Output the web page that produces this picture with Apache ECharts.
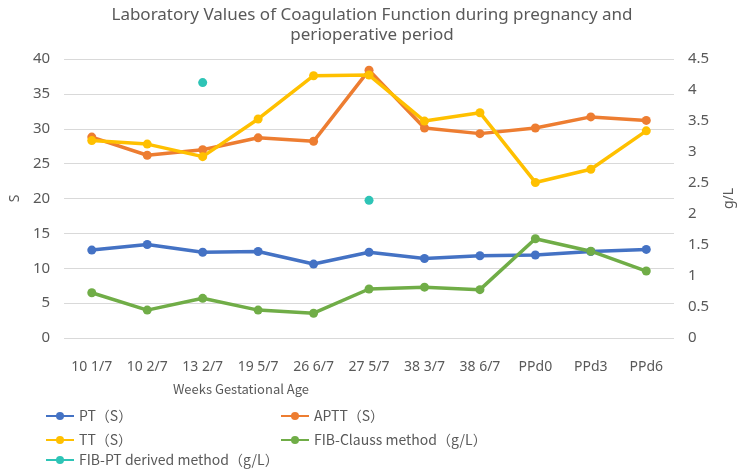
<!DOCTYPE html>
<html>
<head>
<meta charset="utf-8">
<script src="https://cdn.jsdelivr.net/npm/echarts@6/dist/echarts.min.js"></script>
<style>
html, body { margin: 0; padding: 0; background: #fff; }
#chart { width: 744px; height: 470px; }
</style>
</head>
<body>
<div id="chart"></div>
<script>
var weeks = ['10 1/7', '10 2/7', '13 2/7', '19 5/7', '26 6/7', '27 5/7', '38 3/7', '38 6/7', 'PPd0', 'PPd3', 'PPd6'];
var ptVals = [12.6, 13.4, 12.3, 12.4, 10.6, 12.3, 11.4, 11.8, 11.9, 12.4, 12.7];
var apttVals = [28.8, 26.2, 27.0, 28.7, 28.2, 38.4, 30.1, 29.3, 30.1, 31.7, 31.2];
var ttVals = [28.3, 27.8, 26.0, 31.4, 37.6, 37.7, 31.1, 32.3, 22.3, 24.2, 29.7];
var fibClauss = [0.73, 0.45, 0.64, 0.45, 0.40, 0.79, 0.82, 0.78, 1.60, 1.40, 1.08];
var fibPt = [null, null, 4.12, null, null, 2.22, null, null, null, null, null];

var txt = '#595959';
var font = 'Noto Sans';
var cjk = '"Noto Sans CJK SC"';

var myChart = echarts.init(document.getElementById('chart'));

function lineSeries(name, data, color, axis) {
    return {
        name: name,
        type: 'line',
        yAxisIndex: axis,
        data: data,
        symbol: 'circle',
        symbolSize: 9,
        showSymbol: true,
        color: color,
        lineStyle: { width: 3.5, color: color },
        itemStyle: { color: color }
    };
}

// one legend per entry so each row sits where the reference has it
function legendItem(name, left, top) {
    return {
        data: [name],
        left: left,
        top: top,
        padding: 0,
        itemWidth: 28,
        itemHeight: 10,
        textStyle: { color: txt, fontSize: 14, fontFamily: cjk }
    };
}

myChart.setOption({
    animation: false,
    title: [{
        text: 'Laboratory Values of Coagulation Function during pregnancy and\nperioperative period',
        left: 'center',
        top: 0,
        textStyle: { color: txt, fontSize: 17, fontWeight: 'normal', fontFamily: font, lineHeight: 20 }
    }, {
        text: 'Weeks Gestational Age',
        left: 236,
        top: 378,
        textAlign: 'center',
        textStyle: { color: txt, fontSize: 13, fontWeight: 'normal', fontFamily: cjk }
    }],
    grid: { left: 53, right: 59, top: 59, bottom: 132 },
    legend: [
        legendItem('PT（S）', 45, 409),
        legendItem('APTT（S）', 280, 409),
        legendItem('TT（S）', 45, 433),
        legendItem('FIB-Clauss method（g/L）', 280, 433),
        legendItem('FIB-PT derived method（g/L）', 45, 453)
    ],
    xAxis: {
        type: 'category',
        data: weeks,
        boundaryGap: true,
        axisLine: { show: false },
        axisTick: { show: false },
        axisLabel: { color: txt, fontSize: 14, fontFamily: font, interval: 0, margin: 22 }
    },
    yAxis: [{
        type: 'value',
        min: 0,
        max: 40,
        interval: 5,
        name: 'S',
        nameLocation: 'middle',
        nameGap: 40,
        nameTextStyle: { color: txt, fontSize: 14, fontFamily: font },
        axisLabel: { color: txt, fontSize: 15, fontFamily: font, margin: 14 },
        axisLine: { show: false },
        axisTick: { show: false },
        splitLine: { lineStyle: { color: '#d9d9d9', width: 1 } }
    }, {
        type: 'value',
        min: 0,
        max: 4.5,
        interval: 0.5,
        name: 'g/L',
        nameLocation: 'middle',
        nameGap: 48,
        nameTextStyle: { color: txt, fontSize: 14, fontFamily: font },
        axisLabel: { color: txt, fontSize: 15, fontFamily: font, margin: 14 },
        axisLine: { show: false },
        axisTick: { show: false },
        splitLine: { show: false }
    }],
    series: [
        lineSeries('PT（S）', ptVals, '#4472c4', 0),
        lineSeries('APTT（S）', apttVals, '#ed7d31', 0),
        lineSeries('TT（S）', ttVals, '#ffc000', 0),
        lineSeries('FIB-Clauss method（g/L）', fibClauss, '#70ad47', 1),
        lineSeries('FIB-PT derived method（g/L）', fibPt, '#2ec4b6', 1)
    ]
});
</script>
</body>
</html>
